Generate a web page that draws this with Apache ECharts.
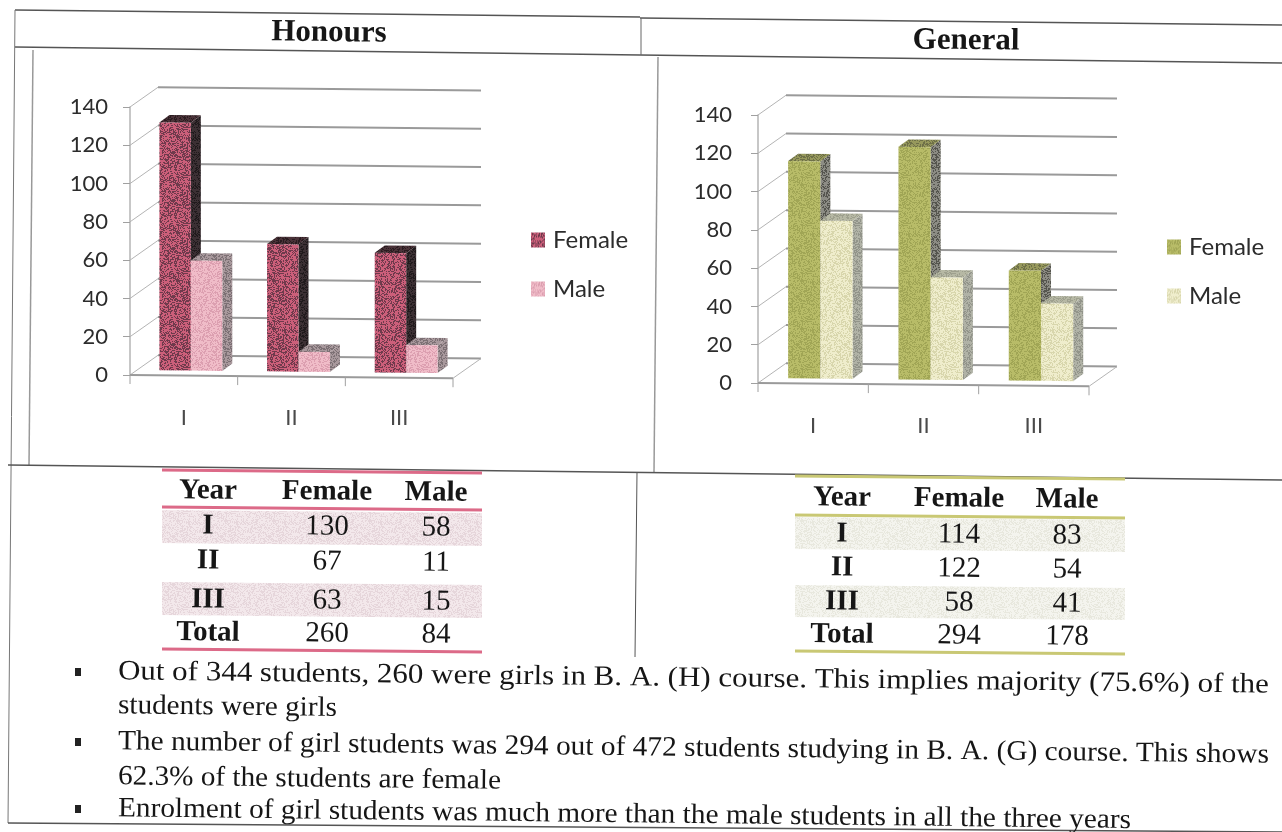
<!DOCTYPE html>
<html>
<head>
<meta charset="utf-8">
<title>Honours and General enrolment</title>
<script src="https://cdn.jsdelivr.net/npm/echarts@6/dist/echarts.min.js"></script>
<style>
html, body { margin: 0; padding: 0; background: #fff; }
#chart { width: 1282px; height: 832px; }
</style>
</head>
<body>
<div id="chart"></div>
<script>
var categories = ['I', 'II', 'III'];
var yTicks = [0, 20, 40, 60, 80, 100, 120, 140];
var honoursFemale = [130, 67, 63];
var honoursMale = [58, 11, 15];
var generalFemale = [114, 122, 58];
var generalMale = [83, 54, 41];
var honoursTotal = [260, 84];
var generalTotal = [294, 178];
var tableHead = ['Year', 'Female', 'Male'];
var tableRows = ['I', 'II', 'III', 'Total'];
var notes = [
  'Out of 344 students, 260 were girls in B. A. (H) course. This implies majority (75.6%) of the',
  'students were girls',
  'The number of girl students was 294 out of 472 students studying in B. A. (G) course. This shows',
  '62.3% of the students are female',
  'Enrolment of girl students was much more than the male students in all the three years'
];

var SERIF = '"Liberation Serif", serif';
var TILT = 0.0115; // the page was scanned a bit crooked

// grainy fill like the photocopied bars
function speckle(light, dark, amount) {
  var c = document.createElement('canvas');
  c.width = c.height = 48;
  var ctx = c.getContext('2d');
  ctx.fillStyle = light;
  ctx.fillRect(0, 0, 48, 48);
  ctx.fillStyle = dark;
  var s = 7;
  for (var y = 0; y < 48; y++) {
    for (var x = 0; x < 48; x++) {
      s = (s * 1103515245 + 12345) % 2147483648;
      if (s / 2147483648 < amount) ctx.fillRect(x, y, 1, 1);
    }
  }
  return { image: c, repeat: 'repeat' };
}

var pink = {
  female: { face: speckle('#cc5f7a', '#6f3a4c', 0.42), side: speckle('#3c3034', '#201a1c', 0.4), top: speckle('#4a3238', '#2a1c20', 0.4) },
  male: { face: speckle('#f0bcc8', '#dc9fb0', 0.4), side: speckle('#a8989c', '#7c7074', 0.4), top: speckle('#a8989c', '#7c7074', 0.4) }
};
var green = {
  female: { face: speckle('#b8bc68', '#a0a555', 0.4), side: speckle('#8c8c84', '#55554e', 0.4), top: speckle('#96985c', '#6e7048', 0.4) },
  male: { face: speckle('#efedcc', '#d8d6ac', 0.4), side: speckle('#b0b2a6', '#92948a', 0.4), top: speckle('#b6b8a4', '#9ea08e', 0.4) }
};

function shear(p, left) {
  return [p[0], p[1] + (p[0] - left) * 0.01];
}

// back wall, side wall and floor
function renderWall(params, api) {
  var g = params.coordSys;
  var pt = api.coord([0, api.value(1)]);
  var y = pt[1];
  var dx = 28, dy = -20;
  var a = shear([g.x, y], g.x);
  var b = shear([g.x + dx, y + dy], g.x);
  var c = shear([g.x + g.width + dx, y + dy], g.x);
  var kids = [
    { type: 'line', shape: { x1: a[0], y1: a[1], x2: b[0], y2: b[1] }, style: { stroke: '#b4b4b4', lineWidth: 1 } },
    { type: 'line', shape: { x1: b[0], y1: b[1], x2: c[0], y2: c[1] }, style: { stroke: '#9a9a9a', lineWidth: 2 } }
  ];
  if (api.value(1) === 0) {
    var d = shear([g.x + g.width, y], g.x);
    kids.push({ type: 'line', shape: { x1: a[0], y1: a[1], x2: d[0], y2: d[1] }, style: { stroke: '#9a9a9a', lineWidth: 2 } });
    kids.push({ type: 'line', shape: { x1: d[0], y1: d[1], x2: c[0], y2: c[1] }, style: { stroke: '#b4b4b4', lineWidth: 1 } });
    for (var i = 0; i <= categories.length; i++) {
      var t = shear([g.x + g.width * i / categories.length, y], g.x);
      kids.push({ type: 'line', shape: { x1: t[0], y1: t[1], x2: t[0], y2: t[1] + 9 }, style: { stroke: '#a0a0a0', lineWidth: 1 } });
    }
  }
  return { type: 'group', children: kids };
}

function barRenderer(which, fills) {
  return function (params, api) {
    var g = params.coordSys;
    var band = api.size([1, 0])[0];
    var top = api.coord([api.value(0), api.value(1)]);
    var base = api.coord([api.value(0), 0]);
    var w = band * 0.292;
    var cx = top[0] + band * 0.065;
    var x0 = which === 0 ? cx - w : cx;
    var x1 = x0 + w;
    // bars stand a little way back from the front of the floor
    var y0 = base[1] - 5;
    var y1 = top[1] - 4;
    var dx = 10, dy = -7.5;
    function s(x, y) { return shear([x, y], g.x); }
    return {
      type: 'group',
      children: [
        { type: 'polygon', shape: { points: [s(x1, y1), s(x1 + dx, y1 + dy), s(x1 + dx, y0 + dy), s(x1, y0)] }, style: { fill: fills.side } },
        { type: 'polygon', shape: { points: [s(x0, y1), s(x0 + dx, y1 + dy), s(x1 + dx, y1 + dy), s(x1, y1)] }, style: { fill: fills.top } },
        { type: 'polygon', shape: { points: [s(x0, y0), s(x0, y1), s(x1, y1), s(x1, y0)] }, style: { fill: fills.face } }
      ]
    };
  };
}

function pairs(values) {
  return values.map(function (v, i) { return [i, v]; });
}

function chartAxes(i, rect, labelMargin) {
  return {
    grid: { left: rect[0], top: rect[1], width: rect[2], height: rect[3] },
    xAxis: {
      type: 'category', gridIndex: i, data: categories,
      axisLine: { show: false }, axisTick: { show: false }, splitLine: { show: false },
      axisLabel: { color: '#4a4a4a', fontFamily: 'Lato', fontSize: 22, margin: 32 }
    },
    yAxis: {
      type: 'value', gridIndex: i, min: 0, max: 140, interval: 20,
      axisLine: { show: true, lineStyle: { color: '#b4b4b4', width: 1.5 } },
      axisTick: { show: true, length: 7, lineStyle: { color: '#a0a0a0' } },
      splitLine: { show: false },
      axisLabel: { color: '#2c2c2c', fontFamily: 'Lato', fontSize: 22, margin: labelMargin }
    }
  };
}

var left = chartAxes(0, [130, 107, 323, 268], 22);
var right = chartAxes(1, [758, 115, 331, 268], 26);

function chartSeries(i, female, male, fills) {
  return [
    { type: 'custom', name: 'wall' + i, xAxisIndex: i, yAxisIndex: i, silent: true, z: 1, renderItem: renderWall, data: pairs(yTicks).map(function (p) { return [0, p[1]]; }) },
    { type: 'custom', name: 'Female', xAxisIndex: i, yAxisIndex: i, silent: true, z: 2, renderItem: barRenderer(0, fills.female), data: pairs(female) },
    { type: 'custom', name: 'Male', xAxisIndex: i, yAxisIndex: i, silent: true, z: 3, renderItem: barRenderer(1, fills.male), data: pairs(male) }
  ];
}

function legendFor(x, y, fills) {
  return {
    orient: 'vertical', left: x, top: y, itemWidth: 14, itemHeight: 15, itemGap: 25, icon: 'rect',
    selectedMode: false,
    textStyle: { fontFamily: 'Lato', fontSize: 24, color: '#2c2c2c', padding: [0, 0, 0, 3] },
    data: [
      { name: 'Female', itemStyle: { color: fills.female.face } },
      { name: 'Male', itemStyle: { color: fills.male.face } }
    ]
  };
}

function rule(x1, y1, x2, y2, color, width) {
  return { type: 'line', shape: { x1: x1, y1: y1, x2: x2, y2: y2 }, style: { stroke: color || '#555', lineWidth: width || 1.5 }, silent: true, z: 5 };
}

function label(str, x, y, size, bold, align) {
  return {
    type: 'text', x: x, y: y, rotation: -TILT, silent: true, z: 6,
    style: { text: str, font: (bold ? 'bold ' : '') + size + 'px ' + SERIF, fill: '#161616', align: align || 'center', verticalAlign: 'middle' }
  };
}

function fitted(str, x, y, size, width) {
  var el = label(str, x, y, size, false, 'left');
  var ctx = document.createElement('canvas').getContext('2d');
  ctx.font = size + 'px ' + SERIF;
  el.scaleX = width / ctx.measureText(str).width;
  return el;
}

// one small table under a chart
function table(t, female, male, total) {
  var out = [];
  function row(y, cols, head) {
    out.push(label(cols[0], t.cols[0], y, 29, true));
    out.push(label(String(cols[1]), t.cols[1], y + 1, 29, head));
    out.push(label(String(cols[2]), t.cols[2], y + 2, 29, head));
  }
  t.shade.forEach(function (b) {
    out.push({
      type: 'polygon', silent: true, z: 4,
      shape: { points: [[t.x1, b[0]], [t.x2, b[0] + 3], [t.x2, b[1] + 3], [t.x1, b[1]]] },
      style: { fill: t.shadeColor }
    });
  });
  t.rules.forEach(function (y) {
    out.push(rule(t.x1, y, t.x2, y + 3, t.ruleColor, 3));
  });
  row(t.ys[0], tableHead, true);
  for (var i = 0; i < 3; i++) {
    row(t.ys[i + 1], [tableRows[i], female[i], male[i]], false);
  }
  row(t.ys[4], [tableRows[3], total[0], total[1]], false);
  return out;
}

var graphics = [
  // frame
  rule(15, 10, 640, 17), rule(640, 18, 1282, 25),
  rule(15, 47, 640, 55), rule(640, 55, 1282, 63),
  rule(15, 10, 8, 823, '#777', 1), rule(33, 50, 29, 465, '#999', 1.5),
  rule(641, 18, 641, 55, '#666', 1), rule(658, 57, 654, 472, '#999', 1.5),
  rule(8, 465, 1282, 480), rule(637, 472, 635, 657, '#555', 1),
  rule(8, 823, 1282, 832),
  label('Honours', 329, 33, 31, true),
  label('General', 966, 41, 31, true)
];

graphics = graphics.concat(table({
  x1: 162, x2: 482, cols: [208, 327, 436],
  ys: [491, 526, 561, 600, 633],
  shade: [[510, 543], [582, 615]], shadeColor: speckle('#f3e8eb', '#e6d6db', 0.4),
  rules: [470, 507, 649], ruleColor: '#dc6a88'
}, honoursFemale, honoursMale, honoursTotal));

graphics = graphics.concat(table({
  x1: 795, x2: 1125, cols: [842, 959, 1067],
  ys: [498, 534, 568, 602, 635],
  shade: [[517, 549], [585, 617]], shadeColor: speckle('#f4f4ee', '#e8e8de', 0.4),
  rules: [476, 515, 651], ruleColor: '#c9c874'
}, generalFemale, generalMale, generalTotal));

var noteY = [672, 706, 742, 777, 809];
var noteW = [1151, 219, 1151, 383, 1013];
var bulletAt = [0, 2, 4];
notes.forEach(function (n, i) {
  graphics.push(fitted(n, 118, noteY[i], 28, noteW[i]));
});
bulletAt.forEach(function (i) {
  graphics.push({ type: 'rect', silent: true, z: 6, shape: { x: 75, y: noteY[i] - 4, width: 6, height: 8 }, style: { fill: '#222' } });
});

var myChart = echarts.init(document.getElementById('chart'));
myChart.setOption({
  animation: false,
  backgroundColor: '#ffffff',
  grid: [left.grid, right.grid],
  xAxis: [left.xAxis, right.xAxis],
  yAxis: [left.yAxis, right.yAxis],
  legend: [legendFor(526, 223, pink), legendFor(1162, 230, green)],
  graphic: { elements: graphics },
  series: chartSeries(0, honoursFemale, honoursMale, pink).concat(chartSeries(1, generalFemale, generalMale, green))
});
</script>
</body>
</html>
